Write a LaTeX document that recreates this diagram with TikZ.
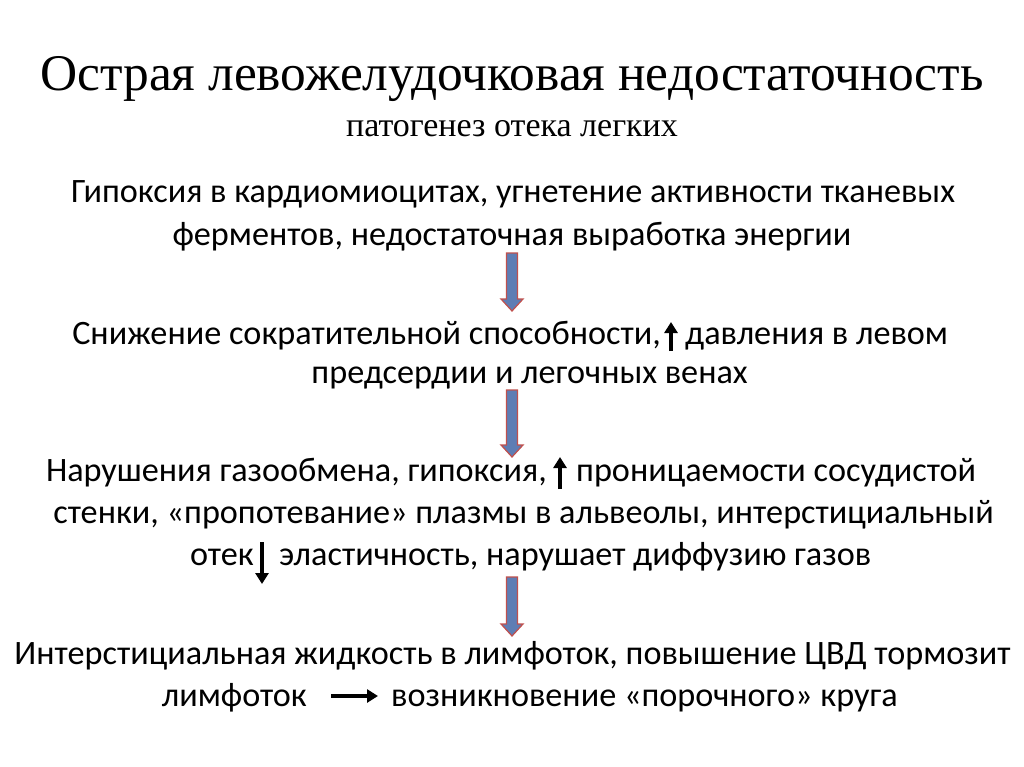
\documentclass[tikz,border=0pt]{standalone}
\usepackage{fontspec}
\setmainfont{Carlito}
\newfontfamily\titlefont{Liberation Serif}
\usetikzlibrary{arrows.meta,calc}
\definecolor{arrblue}{HTML}{5E7DB4}
\definecolor{arrred}{HTML}{C0504D}
\tikzset{
  body/.style={inner sep=0pt, font=\fontsize{34.2}{41}\selectfont},
  ttl/.style={inner sep=0pt, font=\titlefont\fontsize{51.4}{60}\selectfont},
  subttl/.style={inner sep=0pt, font=\titlefont\fontsize{34}{40}\selectfont},
  smallarrow/.style={line width=3.2pt, -{Triangle[length=11pt,width=13pt]}},
  blockarrow/.style={draw=arrred, fill=arrblue, line width=1.2pt, line join=miter,
    to path={let \p1=(\tikztostart), \p2=(\tikztotarget) in
      (\x1-5.5pt,\y1) -- (\x1+5.5pt,\y1) -- (\x1+5.5pt,\y2+12pt) -- (\x1+11pt,\y2+12pt)
      -- (\x2,\y2) -- (\x1-11pt,\y2+12pt) -- (\x1-5.5pt,\y2+12pt) -- cycle}}
}
\begin{document}
\begin{tikzpicture}[x=1pt,y=-1pt]
\useasboundingbox[fill=white] (0,0) rectangle (1024,767);
\node[ttl, anchor=base] (title) at (512,91) {Острая левожелудочковая недостаточность};
\node[subttl, anchor=base] (sub) at (512,137) {патогенез отека легких};

\node[body, anchor=base] (l1) at (513,203) {Гипоксия в кардиомиоцитах, угнетение активности тканевых};
\node[body, anchor=base] (l2) at (512,245) {ферментов, недостаточная выработка энергии};

\node[body, anchor=base east] (l3a) at (661,344) {Снижение сократительной способности,};
\node[body, anchor=base west] (l3b) at (685,344) {давления в левом};
\node[body, anchor=base] (l4) at (529.5,383) {предсердии и легочных венах};

\node[body, anchor=base east] (l5a) at (547,481) {Нарушения газообмена, гипоксия,};
\node[body, anchor=base west] (l5b) at (576,481) {проницаемости сосудистой};
\node[body, anchor=base] (l6) at (523.5,523) {стенки, «пропотевание» плазмы в альвеолы, интерстициальный};
\node[body, anchor=base east] (l7a) at (254,565) {отек};
\node[body, anchor=base west] (l7b) at (279,565) {эластичность, нарушает диффузию газов};

\node[body, anchor=base] (l8) at (512.5,664) {Интерстициальная жидкость в лимфоток, повышение ЦВД тормозит};
\node[body, anchor=base east] (l9a) at (307,706) {лимфоток};
\node[body, anchor=base west] (l9b) at (391,706) {возникновение «порочного» круга};

% small arrows
\coordinate (u1s) at (671,351); \coordinate (u1e) at (671,322);
\coordinate (u2s) at (560,489); \coordinate (u2e) at (560,457);
\coordinate (d1s) at (262,542); \coordinate (d1e) at (262,584);
\coordinate (r1s) at (331,696); \coordinate (r1e) at (378,696);
\draw[smallarrow] (u1s) -- (u1e);
\draw[smallarrow] (u2s) -- (u2e);
\draw[smallarrow] (d1s) -- (d1e);
\draw[smallarrow] (r1s) -- (r1e);

% block arrows
\coordinate (a1s) at (512,253); \coordinate (a1e) at (512,311);
\coordinate (a2s) at (512,390); \coordinate (a2e) at (512,457);
\coordinate (a3s) at (512,577); \coordinate (a3e) at (512,636);
\draw[blockarrow] (a1s) to (a1e);
\draw[blockarrow] (a2s) to (a2e);
\draw[blockarrow] (a3s) to (a3e);
\end{tikzpicture}
\end{document}
